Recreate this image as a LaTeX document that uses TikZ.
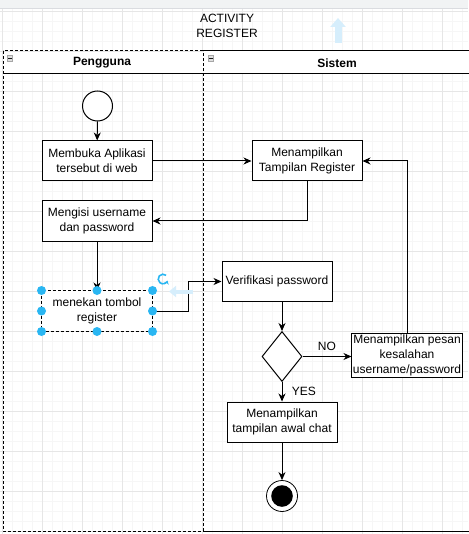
\documentclass[tikz,border=0pt]{standalone}
\usepackage{fontspec}
\setmainfont{Liberation Sans}
\usetikzlibrary{arrows.meta,shapes.geometric,calc}
\definecolor{handleblue}{HTML}{29B6F2}
\definecolor{faintblue}{HTML}{D6EEFC}
\definecolor{topbar}{HTML}{F1F3F4}
\definecolor{topline}{HTML}{DADCE0}
\definecolor{minorgrid}{HTML}{F6F6F6}
\definecolor{majorgrid}{HTML}{E6E6E6}
\begin{document}
\begin{tikzpicture}[x=1pt,y=-1pt,
  txt/.style={font=\fontsize{12}{15}\selectfont},
  box/.style={txt, draw, line width=1pt, minimum width=110, minimum height=40, align=center, inner sep=2pt},
  arr/.style={line width=1pt, -{Stealth[length=8pt,width=7pt,inset=2.5pt]}},
  lanedash/.style={line width=1pt, dash pattern=on 3pt off 2pt},
  handle/.style={fill=handleblue},
  icon/.style={fill=gray!25, draw=gray!70, line width=0.5pt}]
\useasboundingbox (0,0) rectangle (468,534);
% editor background and grid
\fill[white] (0,0) rectangle (468,534);
\foreach \x in {2,12,...,462} \draw[minorgrid, line width=0.8pt] (\x,9) -- (\x,534);
\foreach \y in {11,21,...,531} \draw[minorgrid, line width=0.8pt] (0,\y) -- (468,\y);
\foreach \x in {2,42,...,442} \draw[majorgrid, line width=0.8pt] (\x,9) -- (\x,534);
\foreach \y in {11,51,...,531} \draw[majorgrid, line width=0.8pt] (0,\y) -- (468,\y);
\fill[topbar] (0,0) rectangle (468,8);
\draw[topline, line width=1pt] (0,8.5) -- (468,8.5);
% title
\node[txt, align=center] (title) at (227,26) {ACTIVITY\\REGISTER};
% lanes
\draw[lanedash] (3,51) rectangle (203,531);
\draw[line width=1pt] (3,74) -- (203,74);
\draw[line width=1pt] (203,51) -- (471,51);
\draw[line width=1pt] (203,74) -- (471,74);
\draw[line width=1pt] (203,531) -- (471,531);
\fill[white] (4,52) rectangle (202.5,73.5);
\fill[white] (203.5,51.5) rectangle (468,73.5);
\node[txt, font=\fontsize{12}{15}\selectfont\bfseries] (hp) at (102,63) {Pengguna};
\node[txt, font=\fontsize{12}{15}\selectfont\bfseries] (hs) at (337,63) {Sistem};
\draw[icon] (7,55.5) rectangle (12.5,61);
\draw[gray!20!black, line width=0.7pt] (8,58.25) -- (11.5,58.25);
\draw[icon] (208,55.5) rectangle (213.5,61);
\draw[gray!20!black, line width=0.7pt] (209,58.25) -- (212.5,58.25);
% nodes
\node[draw, circle, line width=1pt, minimum size=30, inner sep=0, fill=white] (start) at (97.5,106) {};
\node[box, fill=white] (n1) at (97,161) {Membuka Aplikasi\\tersebut di web};
\node[box, fill=white] (n2) at (97,221) {Mengisi username\\dan password};
\node[box, draw=none, fill=white] (n3) at (97,311) {menekan tombol\\register};
\draw[lanedash] (n3.north west) rectangle (n3.south east);
\node[box, fill=white] (s1) at (307,161) {Menampilkan\\Tampilan Register};
\node[box, fill=white] (s2) at (277,281.5) {Verifikasi password};
\node[draw, diamond, line width=1pt, minimum width=40, minimum height=50, inner sep=0, fill=white] (d) at (282,356.5) {};
\node[box, minimum height=44, inner sep=1pt, fill=white] (s3) at (407,355) {Menampilkan pesan\\kesalahan\\username/password};
\node[box, fill=white] (s4) at (282,422) {Menampilkan\\tampilan awal chat};
\node[draw, circle, line width=0.8pt, minimum size=31, inner sep=0, fill=white] (end) at (282,496) {};
\fill (end.center) circle (10.8);
% connectors
\draw[arr] (start) -- (n1);
\draw[arr] (n1) -- (s1);
\draw[arr] (s1.south) |- (n2.east);
\draw[arr] (n2) -- (n3);
\draw[arr] (n3.east) -- ++(36,0) |- (s2.west);
\draw[arr] (s2.south -| d.north) -- (d.north);
\draw[arr] (d.east) -- (s3.west |- d.east) node[txt, midway, above=2pt] {NO};
\draw[arr] (d.south) -- (s4.north) node[txt, midway, right=6pt] {YES};
\draw[arr] (s3.north) |- (s1.east);
\draw[arr] (s4) -- (end);
% selection handles
\foreach \a in {north west,north,north east,west,east,south west,south,south east}
  \fill[handle] (n3.\a) circle (4.5);
\draw[handleblue, line width=1.6pt, -{Stealth[length=3.5pt,width=5pt]}] (163,279) ++(-50:4.8) arc[start angle=-50, end angle=-340, radius=4.8];
\draw[faintblue, line width=4pt, -{Triangle[length=7pt,width=11pt]}] (193,291.5) -- (169,291.5);
\draw[faintblue, line width=7pt, -{Triangle[length=9pt,width=15pt]}] (338,43) -- (338,18);
\end{tikzpicture}
\end{document}
